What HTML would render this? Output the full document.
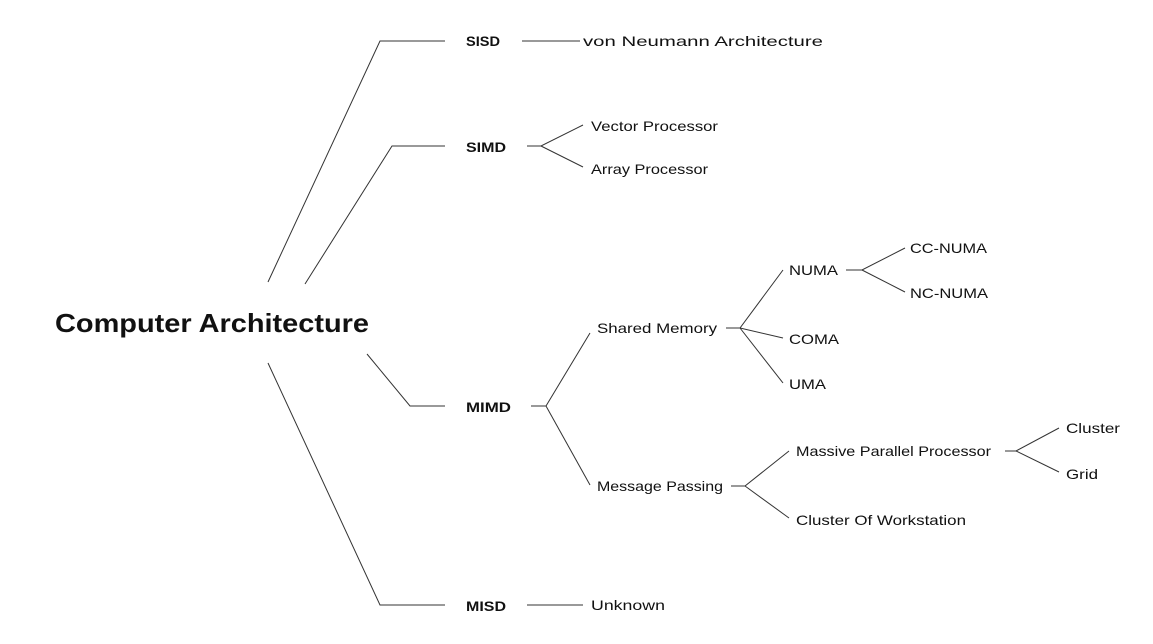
<!DOCTYPE html>
<html><head><meta charset="utf-8"><style>
html,body{margin:0;padding:0;background:#fff;}
svg{display:block;}
text{font-family:"Liberation Sans",sans-serif;fill:#111;dominant-baseline:central;}
.b{font-weight:bold;font-size:14px;}
.n{font-size:14px;}
</style></head><body>
<svg width="1153" height="644" viewBox="0 0 1153 644">
<g stroke="#333" stroke-width="1" fill="none">
<polyline points="268,282 380,41 445,41"/>
<polyline points="305,284 392,146 445,146"/>
<polyline points="367,354 410,406 445,406"/>
<polyline points="268,363 380,605 445,605"/>
<line x1="522" y1="41" x2="580" y2="41"/>
<polyline points="527,146 541,146 583,125"/><line x1="541" y1="146" x2="583" y2="167"/>
<polyline points="531,406 546,406 590,333"/><line x1="546" y1="406" x2="590" y2="485"/>
<line x1="527" y1="605" x2="583" y2="605"/>
<polyline points="726,328 740,328 783,270"/><line x1="740" y1="328" x2="783" y2="338"/><line x1="740" y1="328" x2="783" y2="383"/>
<polyline points="846,270 862,270 905,248"/><line x1="862" y1="270" x2="905" y2="292"/>
<polyline points="731,486 745,486 789,451"/><line x1="745" y1="486" x2="789" y2="518"/>
<polyline points="1005,451 1016,451 1059,428"/><line x1="1016" y1="451" x2="1059" y2="472"/>
</g>
<text x="55" y="323" style="font-weight:bold;font-size:26px" textLength="314" lengthAdjust="spacingAndGlyphs">Computer Architecture</text>
<text class="b" x="466" y="41" textLength="34" lengthAdjust="spacingAndGlyphs">SISD</text>
<text class="b" x="466" y="147" textLength="40" lengthAdjust="spacingAndGlyphs">SIMD</text>
<text class="b" x="466" y="407" textLength="45" lengthAdjust="spacingAndGlyphs">MIMD</text>
<text class="b" x="466" y="606" textLength="40" lengthAdjust="spacingAndGlyphs">MISD</text>
<text class="n" x="583" y="41" textLength="240" lengthAdjust="spacingAndGlyphs">von Neumann Architecture</text>
<text class="n" x="591" y="126" textLength="127" lengthAdjust="spacingAndGlyphs">Vector Processor</text>
<text class="n" x="591" y="169" textLength="117" lengthAdjust="spacingAndGlyphs">Array Processor</text>
<text class="n" x="597" y="328" textLength="120" lengthAdjust="spacingAndGlyphs">Shared Memory</text>
<text class="n" x="597" y="486" textLength="126" lengthAdjust="spacingAndGlyphs">Message Passing</text>
<text class="n" x="591" y="605" textLength="74" lengthAdjust="spacingAndGlyphs">Unknown</text>
<text class="n" x="789" y="270" textLength="49" lengthAdjust="spacingAndGlyphs">NUMA</text>
<text class="n" x="789" y="339" textLength="50" lengthAdjust="spacingAndGlyphs">COMA</text>
<text class="n" x="789" y="384" textLength="37" lengthAdjust="spacingAndGlyphs">UMA</text>
<text class="n" x="910" y="248" textLength="77" lengthAdjust="spacingAndGlyphs">CC-NUMA</text>
<text class="n" x="910" y="293" textLength="78" lengthAdjust="spacingAndGlyphs">NC-NUMA</text>
<text class="n" x="796" y="451" textLength="195" lengthAdjust="spacingAndGlyphs">Massive Parallel Processor</text>
<text class="n" x="796" y="520" textLength="170" lengthAdjust="spacingAndGlyphs">Cluster Of Workstation</text>
<text class="n" x="1066" y="428" textLength="54" lengthAdjust="spacingAndGlyphs">Cluster</text>
<text class="n" x="1066" y="474" textLength="32" lengthAdjust="spacingAndGlyphs">Grid</text>
</svg>
</body></html>
